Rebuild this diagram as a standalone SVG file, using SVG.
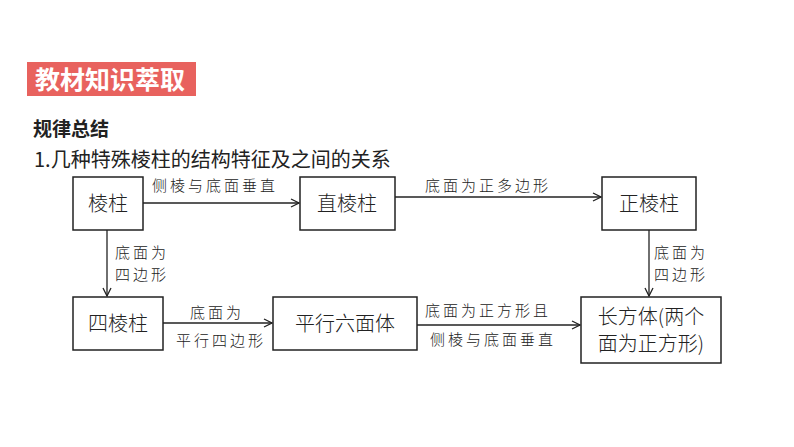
<svg xmlns="http://www.w3.org/2000/svg" width="794" height="447" viewBox="0 0 794 447">
<style>
text{font-family:"Noto Sans CJK SC","Liberation Sans",sans-serif;fill:#222}
.box{fill:#fff;stroke:#222;stroke-width:1.5}
.n{font-size:20px;font-weight:300;text-anchor:middle}
.l{font-size:15px;font-weight:300;letter-spacing:3px}
.c{stroke:#222;stroke-width:1.3;fill:none;marker-end:url(#a)}
</style>
<defs><marker id="a" markerWidth="10" markerHeight="10" refX="9" refY="5" orient="auto" markerUnits="userSpaceOnUse"><path d="M1,1 L9,5 L1,9" fill="none" stroke="#222" stroke-width="1.3"/></marker></defs>
<rect x="27" y="62" width="169" height="34" fill="#e8625e"/>
<text x="35" y="89" font-size="25" font-weight="700" style="fill:#fff">教材知识萃取</text>
<text x="33" y="136" font-size="19" font-weight="700">规律总结</text>
<text x="34" y="167" font-size="20">1.几种特殊棱柱的结构特征及之间的关系</text>
<g id="connectors">
<line class="c" x1="143" y1="203" x2="299" y2="203"/>
<line class="c" x1="395" y1="197" x2="601" y2="197"/>
<line class="c" x1="107" y1="230" x2="107" y2="296"/>
<line class="c" x1="649" y1="230" x2="649" y2="296"/>
<line class="c" x1="163" y1="323" x2="272" y2="323"/>
<line class="c" x1="417" y1="325" x2="580" y2="325"/>
<text class="l" x="152" y="191">侧棱与底面垂直</text>
<text class="l" x="425" y="191">底面为正多边形</text>
<text class="l" x="115" y="258">底面为</text>
<text class="l" x="115" y="280">四边形</text>
<text class="l" x="654" y="258">底面为</text>
<text class="l" x="654" y="280">四边形</text>
<text class="l" x="190" y="318">底面为</text>
<text class="l" x="176" y="346">平行四边形</text>
<text class="l" x="425" y="316">底面为正方形且</text>
<text class="l" x="430" y="345">侧棱与底面垂直</text>
</g>
<g id="n1"><rect class="box" x="73" y="177" width="70" height="53"/><text class="n" x="108" y="211">棱柱</text></g>
<g id="n2"><rect class="box" x="300" y="177" width="95" height="53"/><text class="n" x="347" y="211">直棱柱</text></g>
<g id="n3"><rect class="box" x="602" y="177" width="94" height="53"/><text class="n" x="649" y="211">正棱柱</text></g>
<g id="n4"><rect class="box" x="73" y="297" width="90" height="53"/><text class="n" x="118" y="331">四棱柱</text></g>
<g id="n5"><rect class="box" x="273" y="297" width="144" height="53"/><text class="n" x="345" y="331">平行六面体</text></g>
<g id="n6"><rect class="box" x="581" y="297" width="140" height="66"/><text class="n" x="651" y="324">长方体(两个</text><text class="n" x="651" y="351">面为正方形)</text></g>
</svg>
